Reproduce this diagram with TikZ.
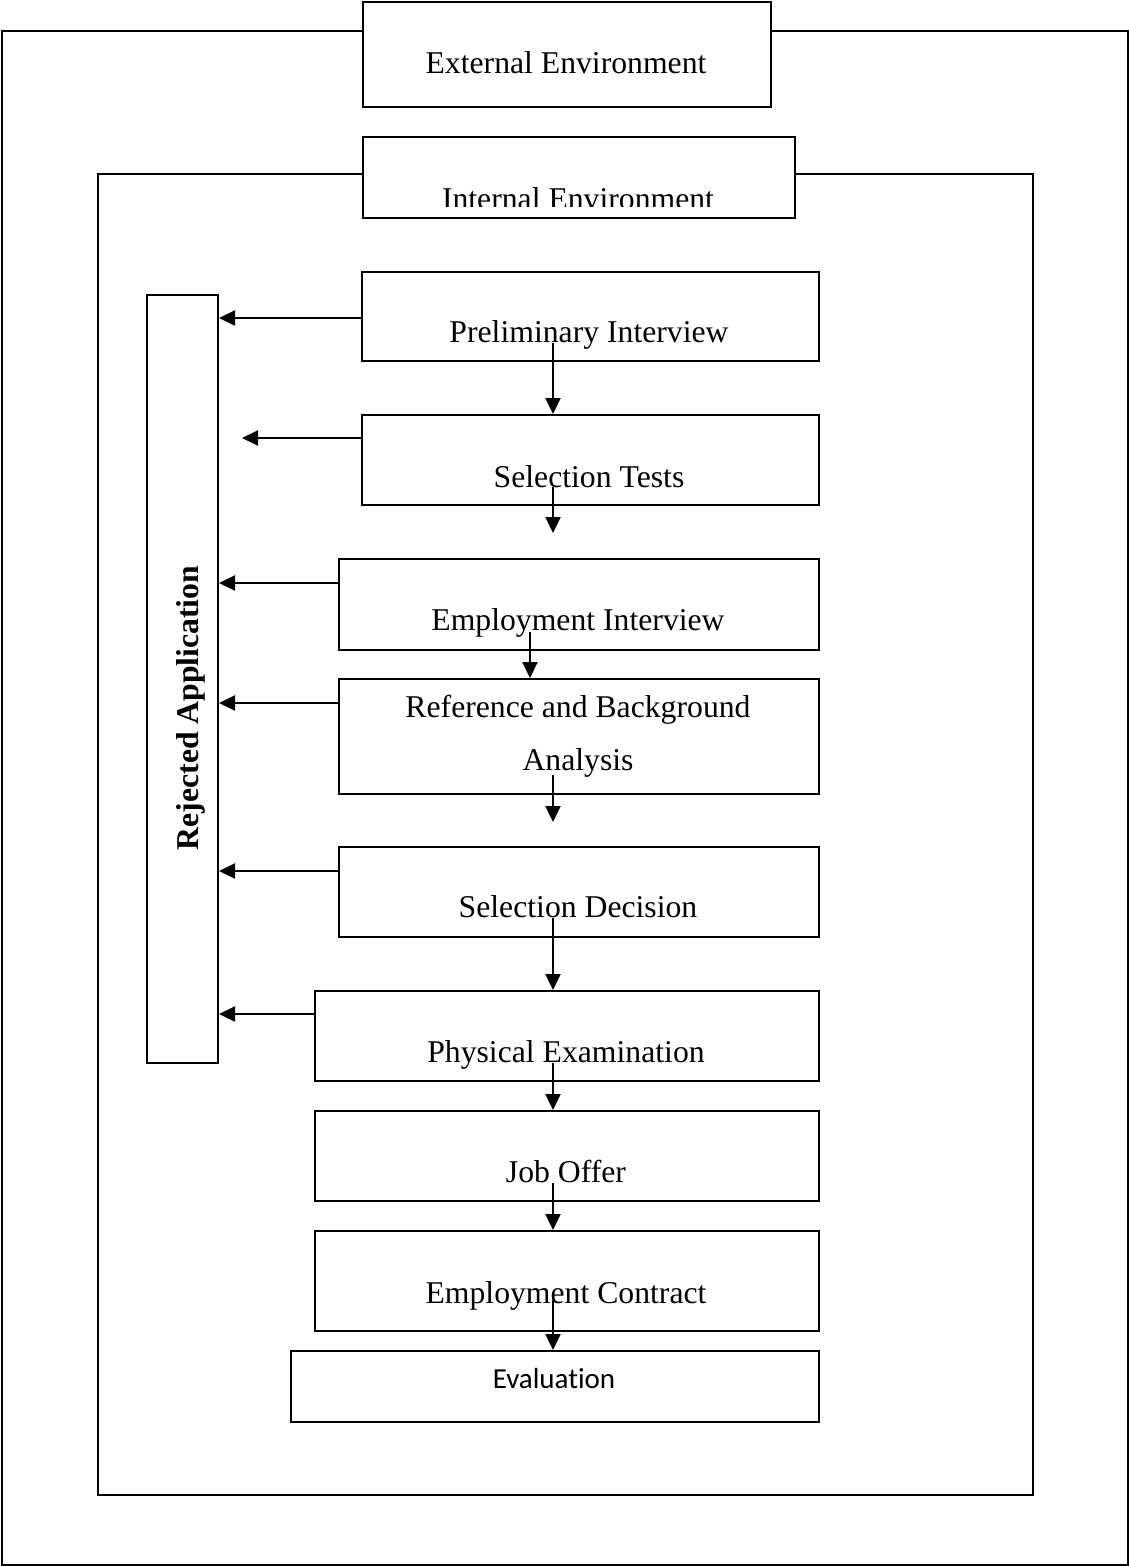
\documentclass[tikz,border=0pt]{standalone}
\usepackage{fontspec}
\setmainfont{Liberation Serif}
\newfontfamily\evalfont[Ligatures=NoCommon]{Carlito}
\usetikzlibrary{arrows.meta}
\begin{document}
\begin{tikzpicture}[x=1pt,y=-1pt,
  frame/.style={draw,line width=1.8pt},
  stepbox/.style={draw,fill=white,line width=2pt,inner sep=0pt,anchor=north west},
  lbl/.style={anchor=base,inner sep=0pt,font=\fontsize{31.7}{38}\selectfont},
  arr/.style={line width=2.2pt,-{Triangle[length=16pt,width=15pt]}}]
\useasboundingbox (0,0) rectangle (1129,1566);
% frames
\draw[frame] (2,31) rectangle (1128,1565);
\draw[frame] (98,174) rectangle (1033,1495);
% boxes
\node[stepbox,minimum width=408pt,minimum height=105pt] (ext) at (362,1) {};
\node[stepbox,minimum width=432pt,minimum height=81pt] (int) at (362,136) {};
\node[stepbox,minimum width=457pt,minimum height=89pt] (pi) at (361,271) {};
\node[stepbox,minimum width=457pt,minimum height=90pt] (st) at (361,414) {};
\node[stepbox,minimum width=480pt,minimum height=91pt] (ei) at (338,558) {};
\node[stepbox,minimum width=480pt,minimum height=115pt] (rb) at (338,678) {};
\node[stepbox,minimum width=480pt,minimum height=90pt] (sd) at (338,846) {};
\node[stepbox,minimum width=504pt,minimum height=90pt] (pe) at (314,990) {};
\node[stepbox,minimum width=504pt,minimum height=90pt] (jo) at (314,1110) {};
\node[stepbox,minimum width=504pt,minimum height=100pt] (ec) at (314,1230) {};
\node[stepbox,minimum width=528pt,minimum height=71pt] (ev) at (290,1350) {};
\node[stepbox,minimum width=71pt,minimum height=768pt] (rej) at (146,294) {};
% texts
\node[lbl] (extt) at (566,73) {External Environment};
\begin{scope}
  \clip (363,137) rectangle (793,206);
  \node[lbl] (intt) at (578,209) {Internal Environment};
\end{scope}
\node[lbl] (pit) at (589,342) {Preliminary Interview};
\node[lbl] (stt) at (589,487) {Selection Tests};
\node[lbl] (eit) at (578,630) {Employment Interview};
\node[lbl] (rbt1) at (578,717) {Reference and Background};
\node[lbl] (rbt2) at (578,770) {Analysis};
\node[lbl] (sdt) at (578,917) {Selection Decision};
\node[lbl] (pet) at (566,1062) {Physical Examination};
\node[lbl] (jot) at (566,1182) {Job Offer};
\node[lbl] (ect) at (566,1303) {Employment Contract};
\node[anchor=base,inner sep=0pt,font=\evalfont\fontsize{29}{35}\selectfont] (evt) at (554,1388) {Evaluation};
\node[anchor=base,inner sep=0pt,rotate=90,font=\bfseries\fontsize{31.7}{38}\selectfont] (rejt) at (198,708) {Rejected Application};
% rejection arrows
\coordinate (stend) at (242,438);
\draw[arr] (pi.west |- 0,318) -- (rej.east |- 0,318);
\draw[arr] (st.west |- stend) -- (stend);
\draw[arr] (ei.west |- 0,583) -- (rej.east |- 0,583);
\draw[arr] (rb.west |- 0,703) -- (rej.east |- 0,703);
\draw[arr] (sd.west |- 0,871) -- (rej.east |- 0,871);
\draw[arr] (pe.west |- 0,1014) -- (rej.east |- 0,1014);
% flow arrows
\coordinate (stdown) at (553,533);
\coordinate (rbdown) at (553,822);
\draw[arr] (553,343) -- (553,0 |- st.north);
\draw[arr] (553,487) -- (stdown);
\draw[arr] (530,632) -- (530,0 |- rb.north);
\draw[arr] (553,775) -- (rbdown);
\draw[arr] (553,918) -- (553,0 |- pe.north);
\draw[arr] (553,1063) -- (553,0 |- jo.north);
\draw[arr] (553,1183) -- (553,0 |- ec.north);
\draw[arr] (553,1300) -- (553,0 |- ev.north);
\end{tikzpicture}
\end{document}
